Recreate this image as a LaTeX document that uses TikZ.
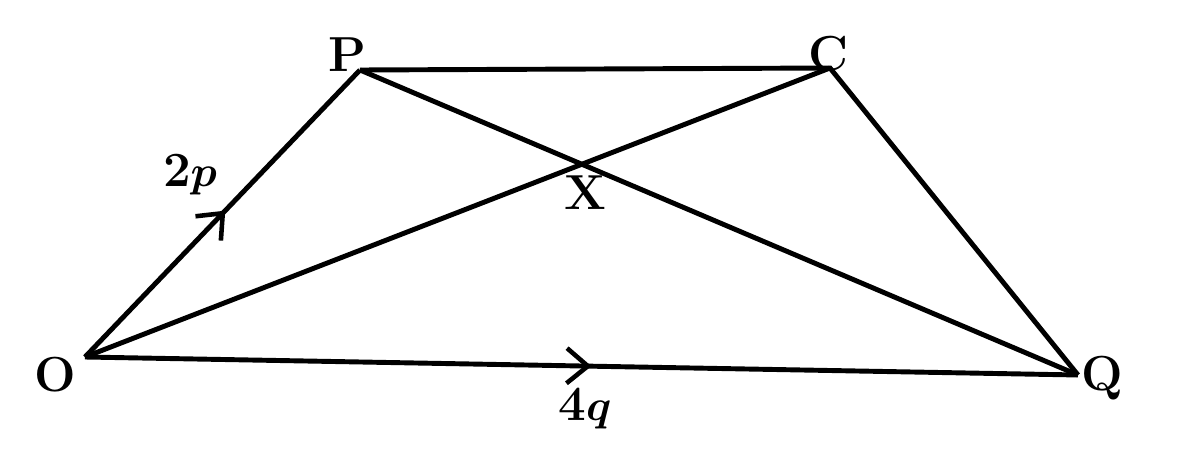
\documentclass[tikz,border=0pt]{standalone}
\usepackage{bm}
\usetikzlibrary{arrows.meta,decorations.markings,intersections}
\tikzset{
  midarrow/.style={postaction={decorate},
    decoration={markings,mark=at position 0.51 with {\arrow{Straight Barb[length=12pt,width=20pt,line width=2.6pt]}}}},
  ptlabel/.style={font=\fontsize{28}{30}\selectfont\bfseries, inner sep=0pt},
}
\begin{document}
\begin{tikzpicture}[line width=2.8pt, >=stealth]
  \useasboundingbox (0,0) rectangle (23.6,9.2);
  \coordinate (O) at (1.70,2.06);
  \coordinate (P) at (7.20,7.80);
  \coordinate (C) at (16.60,7.84);
  \coordinate (Q) at (21.56,1.70);
  % sides
  \draw[midarrow] (O) -- (P);
  \draw[midarrow] (O) -- (Q);
  \draw (P) -- (C) -- (Q);
  % diagonals
  \draw[name path=pq] (P) -- (Q);
  \draw[name path=oc] (O) -- (C);
  \path[name intersections={of=pq and oc, by=X}];
  % labels
  \node[ptlabel] (lo) at (1.10,1.70) {O};
  \node[ptlabel] (lp) at (6.94,8.10) {P};
  \node[ptlabel] (lc) at (16.56,8.12) {C};
  \node[ptlabel] (lq) at (22.05,1.64) {Q};
  \node[ptlabel] (lx) at (11.70,5.34) {X};
  \node[ptlabel] (lop) at (3.80,5.70) {2$\bm{p}$};
  \node[ptlabel] (loq) at (11.70,1.02) {4$\bm{q}$};
\end{tikzpicture}
\end{document}
